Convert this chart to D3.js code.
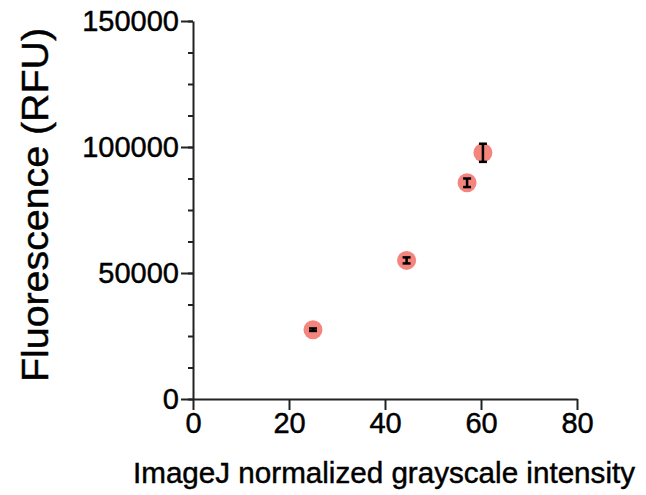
<!DOCTYPE html>
<html>
<head>
<meta charset="utf-8">
<script src="https://cdn.jsdelivr.net/npm/d3@7"></script>
<style>
  body { margin: 0; background: #fff; }
  svg { display: block; font-family: "Liberation Sans", Arial, sans-serif; }
  text { stroke: #000; stroke-width: 0.45px; }
</style>
</head>
<body>
<svg id="chart" width="646" height="495"></svg>
<script>
// data
const intensity = [25, 44.5, 57.1, 60.4];
const fluorescence = [27500, 55000, 85800, 97700];
const errors = [500, 1200, 1700, 3600];
const xTicks = [0, 20, 40, 60, 80];
const yTicks = [0, 50000, 100000, 150000];
const yMinorTicks = d3.range(0, 150001, 12500);

const width = 646, height = 495;
const margin = { top: 21, right: 69, bottom: 96, left: 193 };

const svg = d3.select("#chart");

const x = d3.scaleLinear().domain([0, 80]).range([margin.left, width - margin.right]);
const y = d3.scaleLinear().domain([0, 150000]).range([height - margin.bottom, margin.top]);

// minor y ticks
svg.append("g")
  .attr("transform", `translate(${margin.left},0)`)
  .call(d3.axisLeft(y).tickValues(yMinorTicks).tickSize(5).tickSizeOuter(0).tickFormat(""))
  .call(g => g.select(".domain").remove())
  .call(g => g.selectAll("line").attr("stroke", "#222").attr("stroke-width", 2));

// y axis
svg.append("g")
  .attr("transform", `translate(${margin.left},0)`)
  .call(d3.axisLeft(y).tickValues(yTicks).tickSize(12).tickSizeOuter(0).tickPadding(2).tickFormat(d3.format("d")))
  .call(g => g.select(".domain").attr("stroke", "#222").attr("stroke-width", 2))
  .call(g => g.selectAll("line").attr("stroke", "#222").attr("stroke-width", 2))
  .call(g => g.selectAll("text").attr("font-size", 29).attr("fill", "#000")
    .attr("font-family", "Liberation Sans, Arial, sans-serif"));

// x axis
svg.append("g")
  .attr("transform", `translate(0,${y(0)})`)
  .call(d3.axisBottom(x).tickValues(xTicks).tickSize(11).tickSizeOuter(0).tickPadding(2))
  .call(g => g.select(".domain").attr("stroke", "#222").attr("stroke-width", 2))
  .call(g => g.selectAll("line").attr("stroke", "#222").attr("stroke-width", 2))
  .call(g => g.selectAll("text").attr("font-size", 29).attr("fill", "#000")
    .attr("font-family", "Liberation Sans, Arial, sans-serif"));

const pts = intensity.map((v, i) => ({ x: v, y: fluorescence[i], e: errors[i] }));

// markers
svg.append("g").selectAll("circle")
  .data(pts)
  .enter()
  .append("circle")
  .attr("cx", d => x(d.x))
  .attr("cy", d => y(d.y))
  .attr("r", 9.5)
  .attr("fill", "#f4857e");

// error bars
const eb = svg.append("g").attr("stroke", "#000").attr("stroke-width", 2.5);
pts.forEach(d => {
  const cx = x(d.x);
  eb.append("line").attr("x1", cx).attr("x2", cx).attr("y1", y(d.y - d.e)).attr("y2", y(d.y + d.e));
  [d.y - d.e, d.y + d.e].forEach(v => {
    eb.append("line").attr("x1", cx - 4).attr("x2", cx + 4).attr("y1", y(v)).attr("y2", y(v));
  });
});

// axis titles
svg.append("text")
  .attr("x", 384)
  .attr("y", 483)
  .attr("text-anchor", "middle")
  .attr("font-size", 29)
  .attr("fill", "#000")
  .attr("textLength", 502)
  .attr("lengthAdjust", "spacingAndGlyphs")
  .text("ImageJ normalized grayscale intensity");

svg.append("text")
  .attr("transform", "translate(48,205) rotate(-90)")
  .attr("text-anchor", "middle")
  .attr("font-size", 36)
  .attr("fill", "#000")
  .attr("textLength", 354)
  .attr("lengthAdjust", "spacingAndGlyphs")
  .text("Fluorescence (RFU)");
</script>
</body>
</html>
